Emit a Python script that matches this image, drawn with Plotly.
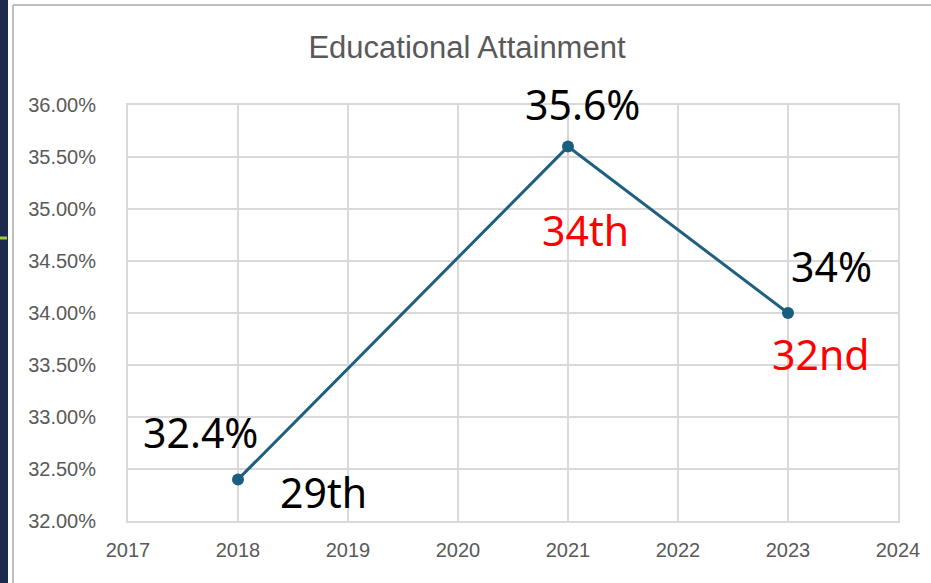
import plotly.graph_objects as go

years = [2018, 2021, 2023]
values = [32.4, 35.6, 34.0]
value_labels = ["32.4%", "35.6%", "34%"]
rank_labels = ["29th", "34th", "32nd"]
rank_colors = ["#000000", "#ff0000", "#ff0000"]
y_ticks = [32.0, 32.5, 33.0, 33.5, 34.0, 34.5, 35.0, 35.5, 36.0]
x_ticks = [2017, 2018, 2019, 2020, 2021, 2022, 2023, 2024]

W, H = 931, 583
L, R, T, B = 128, 898, 105, 521

def px(x):
    return (x - L) / (R - L)

def py(y):
    return (B - y) / (B - T)

narrow = "Liberation Sans, Arial, sans-serif"
label_font = "Noto Sans, Open Sans, sans-serif"

fig = go.Figure()
fig.add_trace(go.Scatter(
    x=years, y=values, mode="lines+markers",
    line=dict(color="#1f5f80", width=3),
    marker=dict(color="#1a5f80", size=12),
    hoverinfo="skip", showlegend=False,
))

# label offsets in pixels (style, not data)
val_off = [(-38, 47), (14, 43), (43, 47)]
rank_off = [(85, -13), (17, -83), (32, -41)]
ann = []
for i in range(len(years)):
    ann.append(dict(x=years[i], y=values[i], text=value_labels[i], showarrow=False,
                    xshift=val_off[i][0], yshift=val_off[i][1],
                    font=dict(family=label_font, size=41, color="#000000")))
    ann.append(dict(x=years[i], y=values[i], text=rank_labels[i], showarrow=False,
                    xshift=rank_off[i][0], yshift=rank_off[i][1],
                    font=dict(family=label_font, size=41, color=rank_colors[i])))

shapes = [
    # dark slide strip on the left
    dict(type="rect", xref="paper", yref="paper", x0=px(-2), x1=px(8), y0=py(H + 5), y1=py(-5),
         fillcolor="#1c2a50", line=dict(width=0), layer="above"),
    dict(type="line", xref="paper", yref="paper", x0=px(0), x1=px(7), y0=py(238), y1=py(238),
         line=dict(color="#a8c83a", width=3)),
    # outer chart frame
    dict(type="line", xref="paper", yref="paper", x0=px(13), x1=px(W + 5), y0=py(5), y1=py(5),
         line=dict(color="#bfbfbf", width=2)),
    dict(type="line", xref="paper", yref="paper", x0=px(13), x1=px(13), y0=py(5), y1=py(H + 5),
         line=dict(color="#bfbfbf", width=2)),
]

fig.update_layout(
    width=W, height=H,
    margin=dict(l=L, r=W - R, t=T, b=H - B, autoexpand=False),
    paper_bgcolor="white", plot_bgcolor="white",
    title=dict(text="Educational Attainment", xref="container", x=467 / W, xanchor="center",
               yref="container", y=1 - 47 / H, yanchor="middle",
               font=dict(family=narrow, size=31, color="#595959")),
    xaxis=dict(range=[2017, 2024], tickvals=x_ticks, ticktext=[str(v) for v in x_ticks],
               showgrid=True, gridcolor="#d9d9d9", gridwidth=2,
               showline=True, linecolor="#d9d9d9", linewidth=2, mirror=True,
               zeroline=False, ticks="", ticklabelstandoff=10, automargin=False,
               tickfont=dict(family=narrow, size=20, color="#595959"), fixedrange=True),
    yaxis=dict(range=[32.0, 36.0], tickvals=y_ticks,
               ticktext=[f"{v:.2f}%" for v in y_ticks],
               showgrid=True, gridcolor="#d9d9d9", gridwidth=2,
               showline=True, linecolor="#d9d9d9", linewidth=2, mirror=True,
               zeroline=False, ticks="", ticklabelstandoff=26, automargin=False,
               tickfont=dict(family=narrow, size=20, color="#595959"), fixedrange=True),
    annotations=ann,
    shapes=shapes,
)

fig.write_html("out.html", config={"displayModeBar": False},
               post_script="document.body.style.margin='0';document.body.style.overflow='hidden';")
